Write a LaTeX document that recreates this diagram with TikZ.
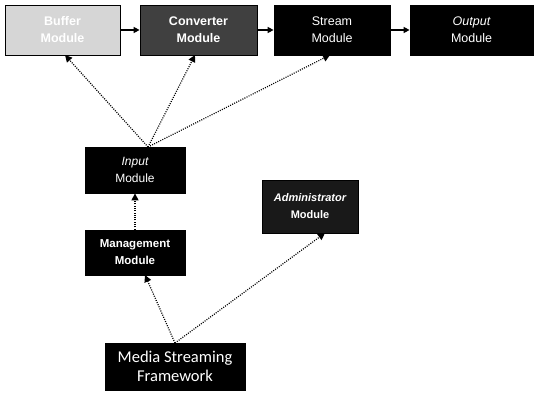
\documentclass[tikz,border=0pt]{standalone}
\usepackage{fontspec}
\setmainfont{Liberation Sans}
\newfontfamily\msf{Carlito}
\usetikzlibrary{arrows.meta}
\begin{document}
\begin{tikzpicture}[x=1pt,y=-1pt,
  mod/.style={draw=black,line width=0.8pt,fill=black,text=white,font=\bfseries\fontsize{12.5}{17}\selectfont,align=center,inner sep=0pt},
  flow/.style={-{Triangle[length=6pt,width=6pt]},line width=1.8pt},
  dep/.style={-{Triangle[length=7pt,width=7pt]},line width=1.2pt,dash pattern=on 1pt off 1.3pt}]
\useasboundingbox (0,0) rectangle (536,394);
\node[mod,fill=black!16,text=white,minimum width=115,minimum height=50] (buf) at (62.5,30) {Buffer\\Module};
\node[mod,fill=black!75,minimum width=117,minimum height=50] (conv) at (198.5,30) {Converter\\Module};
\node[mod,minimum width=116,minimum height=50,font=\fontsize{12.5}{17}\selectfont] (str) at (332,30) {Stream\\Module};
\node[mod,minimum width=123,minimum height=50,font=\fontsize{12.5}{17}\selectfont] (out) at (471.5,30) {\itshape Output\\Module};
\node[mod,minimum width=100,minimum height=46,font=\fontsize{12}{17}\selectfont] (inp) at (135,170) {\itshape Input\\Module};
\node[mod,minimum width=100,minimum height=45,font=\bfseries\fontsize{11.5}{17}\selectfont] (man) at (135,252.5) {Management\\Module};
\node[mod,fill=black!90,minimum width=96,minimum height=53,font=\itshape\bfseries\fontsize{11}{17}\selectfont] (adm) at (310,206.5) {Administrator\\\upshape Module};
\node[mod,minimum width=140,minimum height=47,font=\msf\fontsize{16.5}{19}\selectfont] (fw) at (175,366.5) {Media Streaming\\Framework};
\draw[flow] (buf) -- (conv);
\draw[flow] (conv) -- (str);
\draw[flow] (str) -- (out);
\coordinate (it) at (148,147);
\draw[dep] (it) -- (65,55);
\draw[dep] (it) -- (195,55);
\draw[dep] (it) -- (330,55);
\draw[dep] (man.north) -- (inp.south);
\coordinate (ft) at (175,343);
\draw[dep] (ft) -- (145,275);
\draw[dep] (ft) -- (325,233);
\end{tikzpicture}
\end{document}
